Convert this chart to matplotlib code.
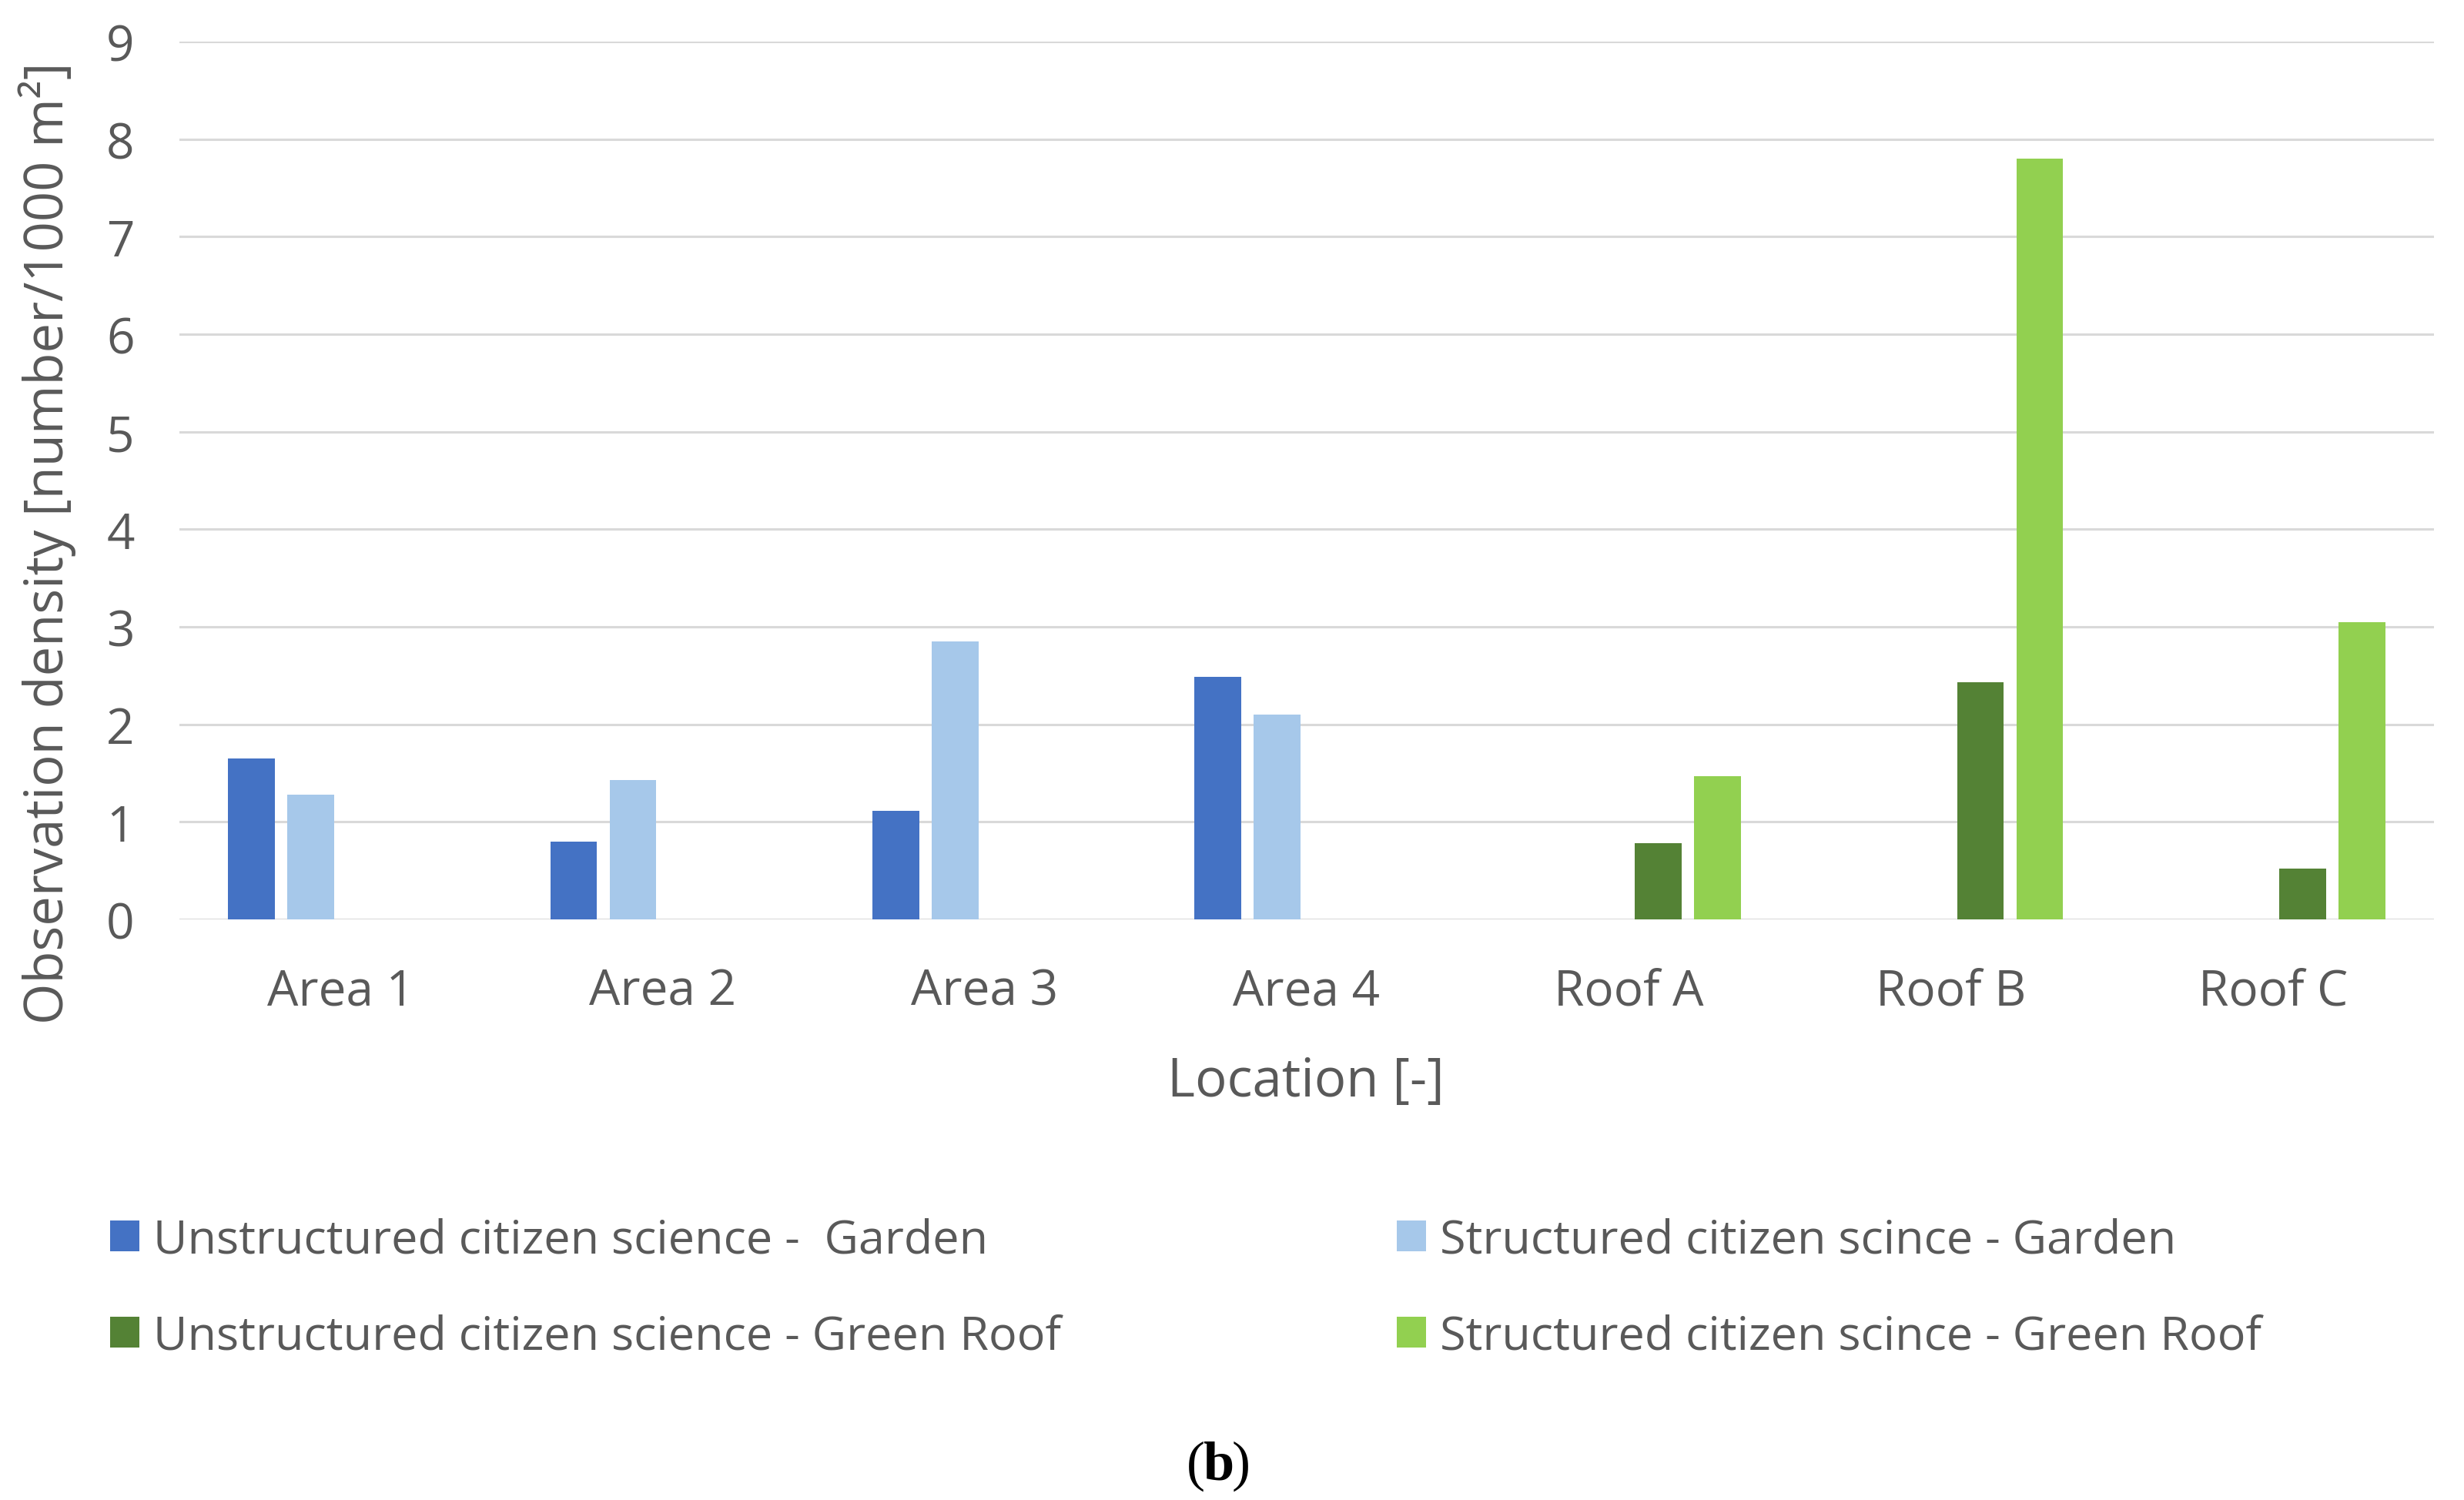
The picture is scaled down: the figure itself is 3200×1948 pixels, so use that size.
import numpy as np
import matplotlib
matplotlib.use("Agg")
import matplotlib.pyplot as plt

# data
locations = ["Area 1", "Area 2", "Area 3", "Area 4", "Roof A", "Roof B", "Roof C"]
unstructured_garden = [1.65, 0.80, 1.11, 2.49, 0, 0, 0]
structured_garden = [1.28, 1.43, 2.85, 2.10, 0, 0, 0]
unstructured_roof = [0, 0, 0, 0, 0.78, 2.43, 0.52]
structured_roof = [0, 0, 0, 0, 1.47, 7.80, 3.05]
series_names = [
    "Unstructured citizen science -  Garden",
    "Structured citizen scince - Garden",
    "Unstructured citizen science - Green Roof",
    "Structured citizen scince - Green Roof",
]
colors = ["#4472C4", "#A6C8EA", "#548235", "#92D050"]
yticks = list(range(0, 10))

TXT = "#595959"
plt.rcParams["font.family"] = ["Open Sans", "DejaVu Sans"]

fig = plt.figure(figsize=(16, 9.745), dpi=200)
ax = fig.add_axes([0.0728, 0.3869, 0.915, 0.5849])

x = np.arange(len(locations))
width = 0.145
step = 0.184
series = [unstructured_garden, structured_garden, unstructured_roof, structured_roof]
bars = []
for i, (vals, c) in enumerate(zip(series, colors)):
    b = ax.bar(x + (i - 1.5) * step, vals, width, color=c, zorder=3)
    bars.append(b)

ax.set_xlim(-0.5, len(locations) - 0.5)
ax.set_ylim(0, 9)
ax.set_yticks(yticks)
ax.set_xticks(x)
ax.set_xticklabels(locations)
ax.yaxis.grid(True, color="#D9D9D9", linewidth=1.1, zorder=0)
ax.set_axisbelow(True)
for s in ax.spines.values():
    s.set_visible(False)
ax.tick_params(axis="both", length=0, labelsize=23, colors=TXT)
ax.tick_params(axis="y", pad=21)
ax.tick_params(axis="x", pad=22)

fig.text(1696 / 3200, 1 - 1406 / 1949, "Location [-]", ha="center", va="center",
         fontsize=24.8, color=TXT)
fig.text(61 / 3200, 1 - 705 / 1949, "Observation density [number/1000 m²]",
         ha="center", va="center", rotation=90, fontsize=24.7, color=TXT)

# two legend columns placed separately
legend_kw = dict(loc="center left", frameon=False, fontsize=22, handlelength=0.62,
                 handleheight=0.62, handletextpad=0.3, labelspacing=1.07,
                 borderpad=0, borderaxespad=0, labelcolor=TXT)
leg1 = fig.legend([bars[0], bars[2]], [series_names[0], series_names[2]],
                  bbox_to_anchor=(143 / 3200, 1 - 1674 / 1949), **legend_kw)
fig.legend([bars[1], bars[3]], [series_names[1], series_names[3]],
           bbox_to_anchor=(1814 / 3200, 1 - 1674 / 1949), **legend_kw)

# caption "(b)" with bold b
cy = 1 - 1904 / 1949
cx = 1582 / 3200
serif = ["Liberation Serif", "DejaVu Serif"]
fig.text(cx, cy, "b", ha="center", va="center", fontsize=26,
         fontweight="bold", family=serif)
fig.text(cx - 0.0055, cy, "(", ha="right", va="center", fontsize=26, family=serif)
fig.text(cx + 0.0055, cy, ")", ha="left", va="center", fontsize=26, family=serif)

fig.savefig("out.png", dpi=200)
